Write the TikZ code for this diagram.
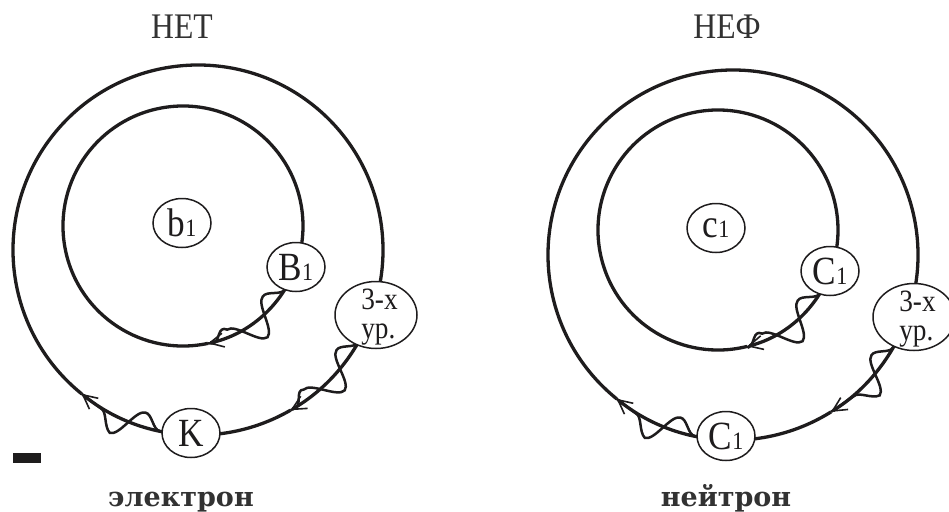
\documentclass[tikz,border=0pt]{standalone}
\usepackage{fontspec}
\setmainfont{Liberation Serif}[FakeStretch=0.88]
\newfontfamily\capfont{DejaVu Serif}
\usetikzlibrary{shapes.geometric,arrows.meta,decorations.pathmorphing,calc}
\definecolor{ink}{RGB}{30,28,29}
\definecolor{txt}{RGB}{50,50,50}
\newcommand{\smallone}{{\fontsize{25}{27}\selectfont 1}}
\newcommand{\levels}{\smash{\raisebox{-9pt}{\hspace*{7pt}\begin{tabular}{@{}l@{}}3-х\\[-1pt]ур.\end{tabular}}}}
\tikzset{
  orbit/.style={line width=3.3pt, draw=ink},
  oval/.style={ellipse, draw=ink, line width=1.5pt, fill=white, inner sep=0pt,
    minimum width=58pt, minimum height=49pt, text=ink, font=\fontsize{40}{44}\selectfont},
  bigoval/.style={oval, minimum width=82pt, minimum height=67pt, font=\fontsize{31}{30}\selectfont},
  wave/.style={draw=ink, line width=2.5pt, decorate,
    decoration={snake, mirror, segment length=56pt, amplitude=15pt}},
  tipped/.style={-{Straight Barb[length=14pt,width=14pt,line width=1.6pt]}},
  title/.style={text=txt, font=\fontsize{36}{38}\selectfont, anchor=base},
  caption/.style={text=txt, font=\capfont\bfseries\fontsize{27}{30}\selectfont, anchor=base},
}
\begin{document}
\begin{tikzpicture}[x=1pt,y=1pt]
\useasboundingbox (0,0) rectangle (949,-511);

% ---------- left diagram ----------
\coordinate (OL) at (198,-250);
\coordinate (IL) at (183,-226);

\node[title] (tl) at (182,-39) {НЕТ};
\node[caption] (cl) at (181,-506) {электрон};

% inner orbit
\draw[orbit, tipped] ($(IL)+(-20:120)$) arc[start angle=-20, end angle=-78, radius=120];
\draw[orbit] ($(IL)+(-78:120)$) arc[start angle=-78, end angle=-380, radius=120];
% outer orbit
\draw[orbit, tipped] ($(OL)+(-20:185)$) arc[start angle=-20, end angle=-60, radius=185];
\draw[orbit, tipped] ($(OL)+(-60:185)$) arc[start angle=-60, end angle=-129, radius=185];
\draw[orbit] ($(OL)+(-129:185)$) arc[start angle=-129, end angle=-380, radius=185];

% waves
\draw[wave] ($(IL)+(-32:120)$) arc[start angle=-32, end angle=-78, radius=120];
\draw[wave] ($(OL)+(-30:185)$) arc[start angle=-30, end angle=-60, radius=185];
\draw[wave] ($(OL)+(-102:185)$) arc[start angle=-102, end angle=-129, radius=185];

\node[oval] (b1) at (182,-223) {b\smallone};
\node[oval] (B1) at (296,-267) {B\smallone};
\node[bigoval] (lvl1) at (376,-315) {\levels};
\node[oval] (K) at (191,-433) {K};

\fill[ink] (13,-453) rectangle (41,-463);

% ---------- right diagram ----------
\coordinate (OR) at (733,-255);
\coordinate (IR) at (718,-230);

\node[title] (tr) at (727,-39) {НЕФ};
\node[caption] (cr) at (726,-506) {нейтрон};

\draw[orbit, tipped] ($(IR)+(-20:120)$) arc[start angle=-20, end angle=-76, radius=120];
\draw[orbit] ($(IR)+(-76:120)$) arc[start angle=-76, end angle=-380, radius=120];
\draw[orbit, tipped] ($(OR)+(-20:185)$) arc[start angle=-20, end angle=-58, radius=185];
\draw[orbit, tipped] ($(OR)+(-58:185)$) arc[start angle=-58, end angle=-129, radius=185];
\draw[orbit] ($(OR)+(-129:185)$) arc[start angle=-129, end angle=-380, radius=185];

\draw[wave] ($(IR)+(-32:120)$) arc[start angle=-32, end angle=-76, radius=120];
\draw[wave] ($(OR)+(-30:185)$) arc[start angle=-30, end angle=-58, radius=185];
\draw[wave] ($(OR)+(-102:185)$) arc[start angle=-102, end angle=-129, radius=185];

\node[oval] (c1) at (716,-228) {c\smallone};
\node[oval] (C1) at (830,-271) {C\smallone};
\node[bigoval] (lvl2) at (914,-317) {\levels};
\node[oval] (C2) at (726,-436) {C\smallone};
\end{tikzpicture}
\end{document}
